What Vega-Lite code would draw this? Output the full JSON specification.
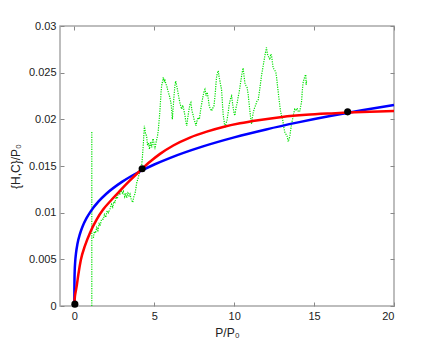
{
  "$schema": "https://vega.github.io/schema/vega-lite/v6.json",
  "width": 334,
  "height": 280,
  "autosize": {"type": "none"},
  "padding": {"left": 60, "top": 26, "right": 42, "bottom": 40},
  "background": "white",
  "config": {
    "view": {"stroke": "#a8a8a8", "strokeWidth": 1.5},
    "axis": {
      "domain": false,
      "grid": false,
      "tickColor": "#888888",
      "tickSize": -4,
      "labelFont": "Liberation Sans",
      "labelFontSize": 11,
      "labelColor": "#222222",
      "titleFont": "Liberation Sans",
      "titleFontSize": 12,
      "titleFontWeight": "normal",
      "titleColor": "#222222"
    }
  },
  "datasets": {
    "green": [
      {"s": 1, "x": 1.09, "y": 0.0},
      {"s": 1, "x": 1.09, "y": 0.01864},
      {"s": 2, "x": 1.19, "y": 0.0073},
      {"s": 2, "x": 1.25, "y": 0.008},
      {"s": 2, "x": 1.32, "y": 0.0078},
      {"s": 2, "x": 1.4, "y": 0.0084},
      {"s": 2, "x": 1.47, "y": 0.0081},
      {"s": 2, "x": 1.55, "y": 0.0088},
      {"s": 2, "x": 1.61, "y": 0.0086},
      {"s": 2, "x": 1.7, "y": 0.0093},
      {"s": 2, "x": 1.81, "y": 0.0093},
      {"s": 2, "x": 1.88, "y": 0.0098},
      {"s": 2, "x": 1.96, "y": 0.0095},
      {"s": 2, "x": 2.05, "y": 0.0102},
      {"s": 2, "x": 2.13, "y": 0.01},
      {"s": 2, "x": 2.23, "y": 0.0104},
      {"s": 2, "x": 2.32, "y": 0.0109},
      {"s": 2, "x": 2.4, "y": 0.0106},
      {"s": 2, "x": 2.47, "y": 0.0112},
      {"s": 2, "x": 2.54, "y": 0.0111},
      {"s": 2, "x": 2.62, "y": 0.0117},
      {"s": 2, "x": 2.69, "y": 0.0115},
      {"s": 2, "x": 2.75, "y": 0.0122},
      {"s": 2, "x": 2.84, "y": 0.0119},
      {"s": 2, "x": 2.92, "y": 0.0124},
      {"s": 2, "x": 3.0, "y": 0.0121},
      {"s": 2, "x": 3.06, "y": 0.0123},
      {"s": 2, "x": 3.15, "y": 0.0117},
      {"s": 2, "x": 3.22, "y": 0.0121},
      {"s": 2, "x": 3.27, "y": 0.0116},
      {"s": 2, "x": 3.35, "y": 0.0121},
      {"s": 2, "x": 3.42, "y": 0.0118},
      {"s": 2, "x": 3.48, "y": 0.012},
      {"s": 2, "x": 3.56, "y": 0.0114},
      {"s": 2, "x": 3.65, "y": 0.0111},
      {"s": 2, "x": 3.72, "y": 0.0117},
      {"s": 2, "x": 3.79, "y": 0.012},
      {"s": 2, "x": 3.85, "y": 0.0126},
      {"s": 2, "x": 3.9, "y": 0.0132},
      {"s": 2, "x": 3.97, "y": 0.0136},
      {"s": 2, "x": 4.05, "y": 0.0141},
      {"s": 2, "x": 4.12, "y": 0.0145},
      {"s": 2, "x": 4.2, "y": 0.0149},
      {"s": 2, "x": 4.26, "y": 0.016},
      {"s": 2, "x": 4.32, "y": 0.0175},
      {"s": 2, "x": 4.38, "y": 0.0193},
      {"s": 2, "x": 4.45, "y": 0.0185},
      {"s": 2, "x": 4.52, "y": 0.0182},
      {"s": 2, "x": 4.58, "y": 0.0172},
      {"s": 2, "x": 4.63, "y": 0.0175},
      {"s": 2, "x": 4.7, "y": 0.0168},
      {"s": 2, "x": 4.77, "y": 0.0176},
      {"s": 2, "x": 4.84, "y": 0.017},
      {"s": 2, "x": 4.9, "y": 0.0179},
      {"s": 2, "x": 4.94, "y": 0.0179},
      {"s": 2, "x": 5.0, "y": 0.0171},
      {"s": 2, "x": 5.04, "y": 0.0168},
      {"s": 2, "x": 5.12, "y": 0.0176},
      {"s": 2, "x": 5.2, "y": 0.0182},
      {"s": 2, "x": 5.25, "y": 0.0188},
      {"s": 2, "x": 5.31, "y": 0.02},
      {"s": 2, "x": 5.36, "y": 0.0211},
      {"s": 2, "x": 5.42, "y": 0.0228},
      {"s": 2, "x": 5.46, "y": 0.0236},
      {"s": 2, "x": 5.52, "y": 0.0241},
      {"s": 2, "x": 5.56, "y": 0.0245},
      {"s": 2, "x": 5.62, "y": 0.0241},
      {"s": 2, "x": 5.67, "y": 0.0243},
      {"s": 2, "x": 5.72, "y": 0.0238},
      {"s": 2, "x": 5.78, "y": 0.0236},
      {"s": 2, "x": 5.83, "y": 0.0232},
      {"s": 2, "x": 5.88, "y": 0.0229},
      {"s": 2, "x": 5.95, "y": 0.0225},
      {"s": 2, "x": 6.04, "y": 0.0218},
      {"s": 2, "x": 6.09, "y": 0.021},
      {"s": 2, "x": 6.13, "y": 0.02},
      {"s": 2, "x": 6.18, "y": 0.0212},
      {"s": 2, "x": 6.24, "y": 0.0226},
      {"s": 2, "x": 6.29, "y": 0.0236},
      {"s": 2, "x": 6.34, "y": 0.0241},
      {"s": 2, "x": 6.4, "y": 0.0236},
      {"s": 2, "x": 6.46, "y": 0.0231},
      {"s": 2, "x": 6.53, "y": 0.0224},
      {"s": 2, "x": 6.6, "y": 0.0218},
      {"s": 2, "x": 6.66, "y": 0.0214},
      {"s": 2, "x": 6.71, "y": 0.0211},
      {"s": 2, "x": 6.78, "y": 0.0215},
      {"s": 2, "x": 6.84, "y": 0.0211},
      {"s": 2, "x": 6.92, "y": 0.0204},
      {"s": 2, "x": 6.97, "y": 0.0198},
      {"s": 2, "x": 7.03, "y": 0.0193},
      {"s": 2, "x": 7.08, "y": 0.02},
      {"s": 2, "x": 7.15, "y": 0.0208},
      {"s": 2, "x": 7.23, "y": 0.0216},
      {"s": 2, "x": 7.29, "y": 0.0218},
      {"s": 2, "x": 7.36, "y": 0.0209},
      {"s": 2, "x": 7.44, "y": 0.0204},
      {"s": 2, "x": 7.5, "y": 0.0199},
      {"s": 2, "x": 7.55, "y": 0.0197},
      {"s": 2, "x": 7.61, "y": 0.0193},
      {"s": 2, "x": 7.68, "y": 0.0199},
      {"s": 2, "x": 7.75, "y": 0.0202},
      {"s": 2, "x": 7.82, "y": 0.02},
      {"s": 2, "x": 7.9, "y": 0.021},
      {"s": 2, "x": 8.02, "y": 0.0222},
      {"s": 2, "x": 8.1, "y": 0.0229},
      {"s": 2, "x": 8.17, "y": 0.0232},
      {"s": 2, "x": 8.24, "y": 0.0225},
      {"s": 2, "x": 8.31, "y": 0.0229},
      {"s": 2, "x": 8.38, "y": 0.0222},
      {"s": 2, "x": 8.44, "y": 0.0214},
      {"s": 2, "x": 8.52, "y": 0.0211},
      {"s": 2, "x": 8.59, "y": 0.0209},
      {"s": 2, "x": 8.66, "y": 0.0212},
      {"s": 2, "x": 8.73, "y": 0.0214},
      {"s": 2, "x": 8.8, "y": 0.0225},
      {"s": 2, "x": 8.86, "y": 0.0238},
      {"s": 2, "x": 8.9, "y": 0.0246},
      {"s": 2, "x": 8.96, "y": 0.025},
      {"s": 2, "x": 9.0, "y": 0.0252},
      {"s": 2, "x": 9.06, "y": 0.0245},
      {"s": 2, "x": 9.11, "y": 0.0241},
      {"s": 2, "x": 9.16, "y": 0.0236},
      {"s": 2, "x": 9.21, "y": 0.0232},
      {"s": 2, "x": 9.26, "y": 0.0218},
      {"s": 2, "x": 9.31, "y": 0.0205},
      {"s": 2, "x": 9.37, "y": 0.0198},
      {"s": 2, "x": 9.42, "y": 0.0191},
      {"s": 2, "x": 9.5, "y": 0.0196},
      {"s": 2, "x": 9.56, "y": 0.02},
      {"s": 2, "x": 9.63, "y": 0.0208},
      {"s": 2, "x": 9.69, "y": 0.0216},
      {"s": 2, "x": 9.77, "y": 0.0222},
      {"s": 2, "x": 9.84, "y": 0.0225},
      {"s": 2, "x": 9.9, "y": 0.0217},
      {"s": 2, "x": 9.94, "y": 0.0212},
      {"s": 2, "x": 10.0, "y": 0.0206},
      {"s": 2, "x": 10.04, "y": 0.0204},
      {"s": 2, "x": 10.11, "y": 0.0212},
      {"s": 2, "x": 10.19, "y": 0.0218},
      {"s": 2, "x": 10.25, "y": 0.0224},
      {"s": 2, "x": 10.31, "y": 0.0229},
      {"s": 2, "x": 10.38, "y": 0.0237},
      {"s": 2, "x": 10.46, "y": 0.0246},
      {"s": 2, "x": 10.51, "y": 0.0251},
      {"s": 2, "x": 10.56, "y": 0.0255},
      {"s": 2, "x": 10.62, "y": 0.0246},
      {"s": 2, "x": 10.67, "y": 0.0239},
      {"s": 2, "x": 10.74, "y": 0.0236},
      {"s": 2, "x": 10.81, "y": 0.0234},
      {"s": 2, "x": 10.88, "y": 0.0226},
      {"s": 2, "x": 10.95, "y": 0.0214},
      {"s": 2, "x": 11.02, "y": 0.0203},
      {"s": 2, "x": 11.09, "y": 0.0195},
      {"s": 2, "x": 11.14, "y": 0.0202},
      {"s": 2, "x": 11.19, "y": 0.0207},
      {"s": 2, "x": 11.27, "y": 0.0212},
      {"s": 2, "x": 11.36, "y": 0.0216},
      {"s": 2, "x": 11.43, "y": 0.022},
      {"s": 2, "x": 11.5, "y": 0.0221},
      {"s": 2, "x": 11.58, "y": 0.023},
      {"s": 2, "x": 11.65, "y": 0.0239},
      {"s": 2, "x": 11.72, "y": 0.0248},
      {"s": 2, "x": 11.81, "y": 0.0257},
      {"s": 2, "x": 11.88, "y": 0.0264},
      {"s": 2, "x": 11.94, "y": 0.027},
      {"s": 2, "x": 12.02, "y": 0.0277},
      {"s": 2, "x": 12.08, "y": 0.027},
      {"s": 2, "x": 12.15, "y": 0.0267},
      {"s": 2, "x": 12.23, "y": 0.0264},
      {"s": 2, "x": 12.29, "y": 0.027},
      {"s": 2, "x": 12.34, "y": 0.0268},
      {"s": 2, "x": 12.4, "y": 0.026},
      {"s": 2, "x": 12.44, "y": 0.0255},
      {"s": 2, "x": 12.53, "y": 0.0253},
      {"s": 2, "x": 12.61, "y": 0.025},
      {"s": 2, "x": 12.66, "y": 0.0244},
      {"s": 2, "x": 12.69, "y": 0.0239},
      {"s": 2, "x": 12.75, "y": 0.023},
      {"s": 2, "x": 12.81, "y": 0.0221},
      {"s": 2, "x": 12.86, "y": 0.0214},
      {"s": 2, "x": 12.9, "y": 0.0209},
      {"s": 2, "x": 12.97, "y": 0.0203},
      {"s": 2, "x": 13.03, "y": 0.02},
      {"s": 2, "x": 13.1, "y": 0.0192},
      {"s": 2, "x": 13.17, "y": 0.0186},
      {"s": 2, "x": 13.24, "y": 0.0184},
      {"s": 2, "x": 13.31, "y": 0.0182},
      {"s": 2, "x": 13.38, "y": 0.0176},
      {"s": 2, "x": 13.44, "y": 0.0179},
      {"s": 2, "x": 13.49, "y": 0.0183},
      {"s": 2, "x": 13.53, "y": 0.0188},
      {"s": 2, "x": 13.59, "y": 0.0195},
      {"s": 2, "x": 13.65, "y": 0.02},
      {"s": 2, "x": 13.72, "y": 0.0206},
      {"s": 2, "x": 13.79, "y": 0.0211},
      {"s": 2, "x": 13.86, "y": 0.021},
      {"s": 2, "x": 13.94, "y": 0.0212},
      {"s": 2, "x": 14.02, "y": 0.0208},
      {"s": 2, "x": 14.11, "y": 0.0209},
      {"s": 2, "x": 14.16, "y": 0.0214},
      {"s": 2, "x": 14.21, "y": 0.0218},
      {"s": 2, "x": 14.26, "y": 0.023},
      {"s": 2, "x": 14.31, "y": 0.0239},
      {"s": 2, "x": 14.37, "y": 0.0243},
      {"s": 2, "x": 14.42, "y": 0.0246},
      {"s": 2, "x": 14.48, "y": 0.0248},
      {"s": 2, "x": 14.53, "y": 0.0241},
      {"s": 2, "x": 14.5, "y": 0.0237}
    ],
    "blue": [
      {"x": 0, "y": 0},
      {"x": 0.001, "y": 0.001757},
      {"x": 0.005, "y": 0.002641},
      {"x": 0.02, "y": 0.00375},
      {"x": 0.05, "y": 0.00473},
      {"x": 0.1, "y": 0.005634},
      {"x": 0.2, "y": 0.006715},
      {"x": 0.35, "y": 0.007736},
      {"x": 0.5, "y": 0.008466},
      {"x": 0.75, "y": 0.009382},
      {"x": 1, "y": 0.01009},
      {"x": 1.5, "y": 0.01118},
      {"x": 2, "y": 0.012025},
      {"x": 3, "y": 0.013323},
      {"x": 4, "y": 0.014329},
      {"x": 5, "y": 0.015161},
      {"x": 6, "y": 0.015877},
      {"x": 8, "y": 0.017075},
      {"x": 10, "y": 0.018067},
      {"x": 12, "y": 0.01892},
      {"x": 14, "y": 0.019673},
      {"x": 16, "y": 0.02035},
      {"x": 18, "y": 0.020965},
      {"x": 20, "y": 0.02153}
    ],
    "red": [
      {"x": 0, "y": 0},
      {"x": 0.01, "y": 0.0005},
      {"x": 0.04, "y": 0.0011},
      {"x": 0.1, "y": 0.0017},
      {"x": 0.15, "y": 0.0022},
      {"x": 0.25, "y": 0.0034},
      {"x": 0.4, "y": 0.0049},
      {"x": 0.67, "y": 0.0065},
      {"x": 0.98, "y": 0.00786},
      {"x": 1.4, "y": 0.00929},
      {"x": 1.81, "y": 0.01036},
      {"x": 2.34, "y": 0.01141},
      {"x": 2.86, "y": 0.01236},
      {"x": 3.48, "y": 0.01345},
      {"x": 4.21, "y": 0.01465},
      {"x": 4.73, "y": 0.01545},
      {"x": 5.36, "y": 0.0163},
      {"x": 6.19, "y": 0.0172},
      {"x": 7.23, "y": 0.01805},
      {"x": 8.28, "y": 0.01868},
      {"x": 9.31, "y": 0.01918},
      {"x": 10.36, "y": 0.01957},
      {"x": 11.5, "y": 0.0199},
      {"x": 13.0, "y": 0.02025},
      {"x": 14.5, "y": 0.02048},
      {"x": 16.0, "y": 0.02063},
      {"x": 17.1, "y": 0.02072},
      {"x": 18.5, "y": 0.0208},
      {"x": 20, "y": 0.02088}
    ],
    "pts": [
      {"x": 0.03, "y": 0.0002},
      {"x": 4.24, "y": 0.0147},
      {"x": 17.1, "y": 0.0208}
    ]
  },
  "resolve": {"axis": {"x": "independent", "y": "independent"}},
  "layer": [
    {
      "data": {"name": "green"},
      "mark": {"type": "line", "color": "#00e000", "strokeWidth": 1.2, "strokeDash": [1.2, 1.2]},
      "encoding": {
        "x": {"field": "x", "type": "quantitative", "scale": {"domain": [-0.9, 20], "nice": false, "zero": false},
          "axis": {"orient": "bottom", "values": [0, 5, 10, 15, 20], "labelPadding": 8, "title": "P/P₀", "titlePadding": 6}},
        "y": {"field": "y", "type": "quantitative", "scale": {"domain": [0, 0.03], "nice": false},
          "axis": {"orient": "left", "values": [0, 0.005, 0.01, 0.015, 0.02, 0.025, 0.03], "format": "~g", "labelPadding": 8, "title": "{H,C}/P₀", "titlePadding": 6}},
        "detail": {"field": "s", "type": "nominal"},
        "order": {"value": 0}
      }
    },
    {
      "data": {"name": "blue"},
      "mark": {"type": "line", "color": "#0000ff", "strokeWidth": 2.5, "interpolate": "monotone"},
      "encoding": {
        "x": {"field": "x", "type": "quantitative", "scale": {"domain": [-0.9, 20], "nice": false, "zero": false}, "axis": null},
        "y": {"field": "y", "type": "quantitative", "scale": {"domain": [0, 0.03], "nice": false}, "axis": null}
      }
    },
    {
      "data": {"name": "red"},
      "mark": {"type": "line", "color": "#ff0000", "strokeWidth": 2.5, "interpolate": "monotone"},
      "encoding": {
        "x": {"field": "x", "type": "quantitative", "scale": {"domain": [-0.9, 20], "nice": false, "zero": false}, "axis": null},
        "y": {"field": "y", "type": "quantitative", "scale": {"domain": [0, 0.03], "nice": false}, "axis": null}
      }
    },
    {
      "data": {"name": "pts"},
      "mark": {"type": "point", "filled": true, "color": "#000000", "opacity": 1, "size": 50},
      "encoding": {
        "x": {"field": "x", "type": "quantitative", "scale": {"domain": [-0.9, 20], "nice": false, "zero": false},
          "axis": {"orient": "top", "values": [0, 5, 10, 15, 20], "labels": false, "title": null}},
        "y": {"field": "y", "type": "quantitative", "scale": {"domain": [0, 0.03], "nice": false},
          "axis": {"orient": "right", "values": [0, 0.005, 0.01, 0.015, 0.02, 0.025, 0.03], "labels": false, "title": null}}
      }
    }
  ]
}
